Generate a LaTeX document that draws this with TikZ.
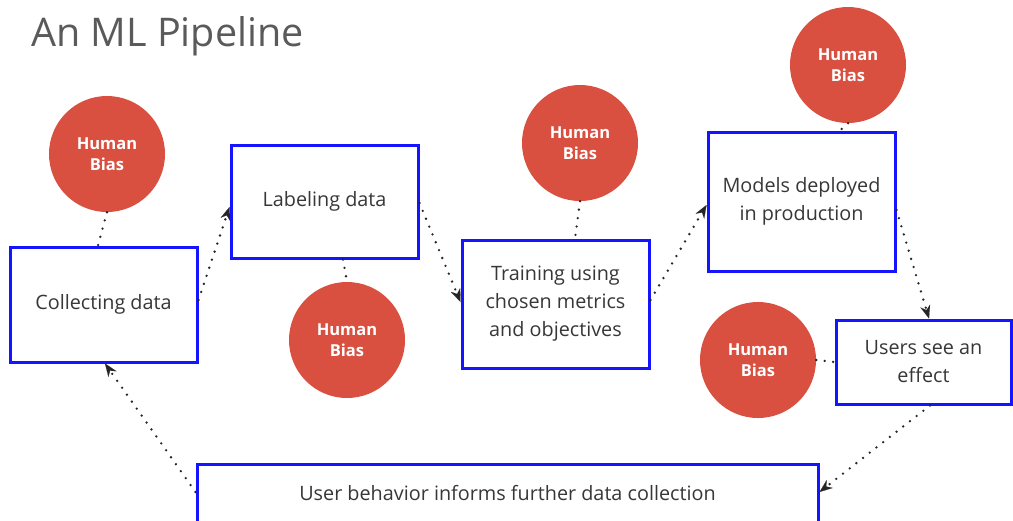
\documentclass[tikz,border=0pt]{standalone}
\usepackage{fontspec}
\setmainfont{Open Sans}
\usetikzlibrary{arrows.meta}
\definecolor{biasred}{RGB}{217,80,64}
\definecolor{boxblue}{RGB}{20,20,255}
\definecolor{txtgray}{RGB}{55,55,55}
\definecolor{titlegray}{RGB}{90,90,90}
\tikzset{
  stagebox/.style={draw=boxblue, line width=3pt, fill=white, text=txtgray,
    align=center, font=\fontsize{19.8}{28}\selectfont, inner sep=0pt},
  bias/.style={circle, fill=biasred, text=white, minimum size=116pt, inner sep=0pt,
    align=center, font=\fontsize{16.5}{21}\selectfont\bfseries},
  dotline/.style={draw=black!85, line width=2.6pt, line cap=round, dash pattern=on 0pt off 8.5pt},
  flow/.style={dotline, -{Stealth[length=13pt,width=10pt,line width=0.1pt]}},
}
\begin{document}
\begin{tikzpicture}[x=1pt,y=-1pt]
\useasboundingbox (0,0) rectangle (1013,520);
\fill[white] (0,0) rectangle (1013,520);
\node[anchor=base west, text=titlegray, font=\fontsize{39.5}{44}\selectfont, inner sep=0pt] (title) at (31,46) {An ML Pipeline};

\node[stagebox, minimum width=187pt, minimum height=115pt] (collect) at (103.5,304.5) {Collecting data};
\node[stagebox, minimum width=187pt, minimum height=113pt] (label) at (324.5,201.5) {Labeling data};
\node[stagebox, minimum width=187pt, minimum height=128pt] (train) at (555.5,304) {Training using\\chosen metrics\\and objectives};
\node[stagebox, minimum width=187pt, minimum height=139pt] (models) at (801.5,201.5) {Models deployed\\in production};
\node[stagebox, minimum width=175pt, minimum height=84pt] (users) at (923.5,362) {Users see an\\effect};
\node[stagebox, minimum width=621pt, minimum height=58pt] (behav) at (507.5,493) {User behavior informs further data collection};

\node[bias] (b1) at (107,154) {Human\\Bias};
\node[bias] (b2) at (347,340) {Human\\Bias};
\node[bias] (b3) at (580,143) {Human\\Bias};
\node[bias] (b4) at (848,65) {Human\\Bias};
\node[bias] (b5) at (758,360) {Human\\Bias};

\draw[flow] ([yshift=4.5pt]collect.east) -- ([yshift=-5.5pt]label.west);
\draw[flow] ([yshift=-1.5pt]label.east) -- ([yshift=2pt]train.west);
\draw[flow] ([yshift=4pt]train.east) -- ([yshift=-3.5pt]models.west);
\draw[flow] ([yshift=-8.5pt]models.east) -- ([xshift=5.5pt]users.north);
\draw[flow] ([xshift=6.5pt]users.south) -- ([yshift=1pt]behav.east);
\draw[flow] ([yshift=1pt]behav.west) -- ([xshift=1.5pt]collect.south);

\draw[dotline] (b1.south) -- ([xshift=-5.5pt]collect.north);
\draw[dotline] ([xshift=18.5pt]label.south) -- (b2.north);
\draw[dotline] (b3.south) -- ([xshift=19.5pt]train.north);
\draw[dotline] (b4.south) -- ([xshift=38.5pt]models.north);
\draw[dotline] (b5.east) -- (users.west);
\end{tikzpicture}
\end{document}
